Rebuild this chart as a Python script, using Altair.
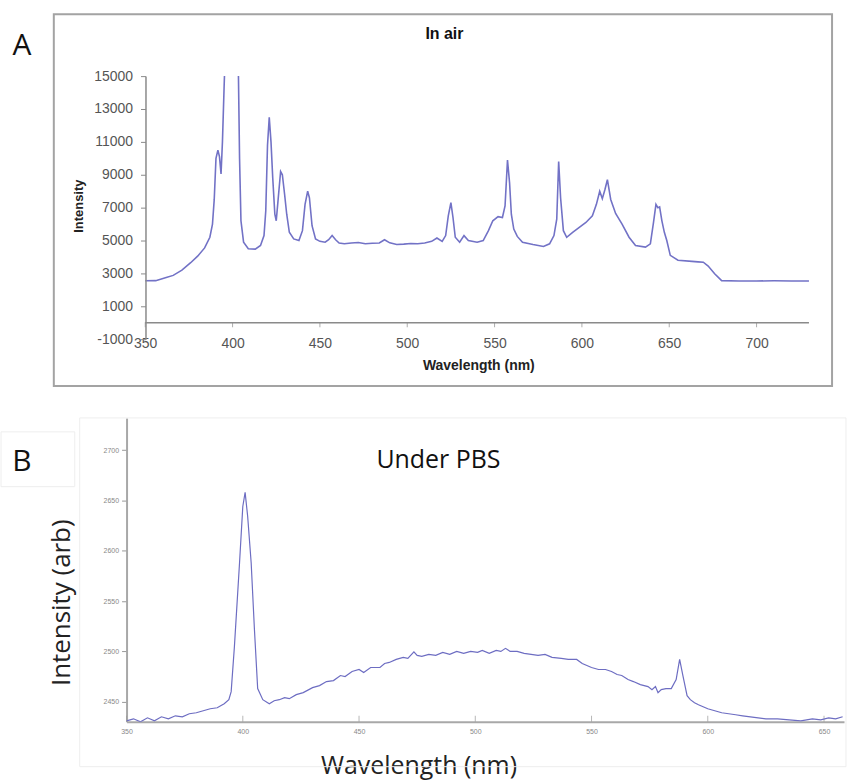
import altair as alt
import pandas as pd

# ---------------- Panel A: "In air" ----------------
wl_air = [350, 356, 362, 366, 371, 376, 380, 384, 387, 388.5, 389.5, 390.5, 391.6, 392.5, 393.4,
          394.2, 395.2, 396, 398, 400, 402, 403.3, 404, 404.8, 406.3, 409, 413, 416, 418, 419,
          420, 421, 422, 423, 424.2, 425, 426, 427.5, 428.5, 429.8, 431, 432.5, 435, 438, 440,
          441.5, 443, 444, 445.5, 447.5, 450, 453, 455, 457, 459, 461, 464, 468, 472, 476, 480,
          484, 487, 490, 494, 498, 502, 506, 510, 514, 517, 520, 522, 523.5, 525, 526.2, 527.5,
          530, 532.5, 535, 540, 543.5, 546.5, 549, 552, 554.5, 556, 557.4, 558.6, 559.6, 561,
          563, 566, 572, 578, 581.5, 584, 585.6, 586.7, 587.8, 589.4, 591.3, 594.7, 598.5, 602.3,
          606, 608.3, 610.2, 611.7, 613.2, 614.6, 616.5, 619.3, 623, 627, 630.7, 636.4, 639.2,
          641, 642.4, 643.5, 644.5, 645.8, 647.2, 648.6, 650.6, 655, 663, 666.5, 669.5, 672.3,
          676, 680, 690, 700, 710, 720, 730]
int_air = [2550, 2560, 2750, 2880, 3200, 3650, 4050, 4550, 5200, 6000, 7500, 10000, 10500, 10100, 9050,
           11000, 14500, 17000, 21000, 24000, 20000, 15500, 10000, 6200, 4900, 4500, 4480, 4700, 5300, 6800,
           10800, 12500, 11000, 8800, 6600, 6200, 7400, 9200, 9000, 7800, 6600, 5500, 5100, 5000, 5600,
           7200, 8000, 7600, 5900, 5100, 4950, 4900, 5050, 5300, 5050, 4850, 4800, 4850, 4880, 4800, 4830,
           4850, 5050, 4860, 4760, 4780, 4820, 4800, 4850, 4950, 5150, 4950, 5300, 6500, 7300, 6400, 5200,
           4900, 5300, 5000, 4900, 5000, 5600, 6200, 6450, 6400, 7100, 9900, 8500, 6600, 5700,
           5250, 4900, 4760, 4640, 4800, 5300, 6300, 9800, 7600, 5600, 5200, 5500, 5800, 6100,
           6500, 7200, 8000, 7550, 8100, 8700, 7500, 6650, 6000, 5200, 4700, 4600, 4800,
           6100, 7200, 7000, 7050, 6200, 5500, 5000, 4100, 3800, 3730, 3700, 3680, 3450,
           2980, 2560, 2540, 2540, 2550, 2540, 2540]

# ---------------- Panel B: "Under PBS" ----------------
wl_pbs = [350, 353, 356, 359, 362, 365, 368, 371, 374, 377, 380, 383, 386, 389, 392, 394, 395, 396.4,
          398.6, 400, 401, 402.1, 403.6, 405, 406.4, 408.6, 411.4, 413.5, 415.7, 418, 420, 423, 426,
          430, 433, 436, 439, 442, 444, 447, 450, 452, 455, 459, 461, 463, 466, 469, 471, 473.6, 475,
          477, 480, 483, 486, 489, 492, 495, 498, 501, 503, 506, 509, 511, 513, 515, 518, 521, 524,
          527, 530, 533, 537, 540, 543.6, 546, 548, 550, 553, 556, 558.6, 561, 563, 565.7, 568, 571,
          574.3, 576, 577.5, 578.6, 580, 582, 584.3, 586.4, 587.9, 589.3, 591.1, 592.5, 594.3, 596,
          598, 600, 603, 606, 609, 612, 615, 620, 625, 630, 635, 640, 645, 648.6, 652, 655, 658]
int_pbs = [2431, 2433, 2430, 2434, 2431, 2435, 2433, 2436, 2435, 2438, 2439, 2441, 2443, 2444, 2448, 2452, 2460, 2505,
           2588, 2644, 2658, 2634, 2588, 2522, 2463, 2452, 2448, 2451, 2452, 2454, 2453, 2457, 2459,
           2464, 2466, 2470, 2471, 2476, 2475, 2480, 2482, 2479, 2484, 2484, 2488, 2489, 2492, 2494, 2493, 2499.5, 2496,
           2495, 2497, 2496, 2499, 2497, 2500, 2498, 2500, 2499, 2501, 2498, 2501, 2500, 2503, 2500, 2500, 2498, 2497,
           2496, 2497, 2494, 2493, 2492, 2492, 2488, 2486, 2484, 2482, 2482, 2480, 2477, 2476, 2472, 2470, 2467,
           2465, 2462, 2465, 2459, 2462, 2463, 2463, 2472, 2492, 2476, 2456, 2452, 2449, 2447,
           2445, 2443, 2441, 2439, 2438, 2437, 2436, 2434.5, 2433, 2433, 2432, 2431, 2433, 2432, 2434, 2433, 2435]

ticks_air_x = [350, 400, 450, 500, 550, 600, 650, 700]
ticks_air_y = [-1000, 1000, 3000, 5000, 7000, 9000, 11000, 13000, 15000]
ticks_pbs_x = [350, 400, 450, 500, 550, 600, 650]
ticks_pbs_y = [2450, 2500, 2550, 2600, 2650, 2700]

LINE_A = "#7272c6"
LINE_B = "#6d6dc2"
SANS = "Liberation Sans"
BIG = "Open Sans"
LBL = "toString(datum.value)"

one = pd.DataFrame({"k": [0]})
df_air = pd.DataFrame({"wl": wl_air, "intensity": int_air})
df_pbs = pd.DataFrame({"wl": wl_pbs, "intensity": int_pbs})
df_tair = pd.DataFrame({"wl": ticks_air_x})
df_tpbs = pd.DataFrame({"wl": ticks_pbs_x})

WA, HA = 685, 264
WB, HB = 720, 305
xs_a = alt.Scale(domain=[339.3, 730.1], nice=False, zero=False)
ys_a = alt.Scale(domain=[-1000, 15000], nice=False, zero=False)
xs_b = alt.Scale(domain=[350, 658.6], nice=False, zero=False)
ys_b = alt.Scale(domain=[2430, 2732], nice=False, zero=False)

ax_a_x = alt.Axis(
    values=ticks_air_x, labelExpr=LBL, domain=False, ticks=False, grid=False, zindex=1,
    labelFont=SANS, labelFontSize=14, labelColor="#555", labelBaseline="middle", labelPadding=4,
    labelFlush=False, labelOverlap=False, labelBound=False, title="Wavelength (nm)", titleFont=SANS,
    titleFontSize=14, titleFontWeight="bold", titleColor="#222", titleX=353, titleY=26,
    titleBaseline="middle", titleAlign="center")
ax_a_y = alt.Axis(
    values=ticks_air_y, labelExpr=LBL, domain=True, domainColor="#8a8a8a", domainWidth=1.5, ticks=True,
    tickColor="#8a8a8a", tickSize=5, grid=False, offset=-19, zindex=1, labelFont=SANS,
    labelFontSize=14, labelColor="#555", labelPadding=8, labelFlush=False, labelOverlap=False,
    labelBound=False, title="Intensity", titleFont=SANS, titleFontSize=13, titleFontWeight="bold",
    titleColor="#222", titleAngle=270, titleX=-67, titleY=130, titleBaseline="middle", titleAlign="center")

# ---- panel A layers
bg = alt.Chart(one).mark_rect(fill="white").encode(
    x=alt.value(-127), x2=alt.value(720), y=alt.value(-75), y2=alt.value(706))
frame_a = alt.Chart(one).mark_rect(fill=None, stroke="#a3a3a3", strokeWidth=2).encode(
    x=alt.value(-73), x2=alt.value(708), y=alt.value(-62), y2=alt.value(311))
zero_rule = alt.Chart(one).mark_rule(color="#8a8a8a", strokeWidth=1.5).encode(
    x=alt.datum(350, scale=xs_a, axis=ax_a_x), x2=alt.datum(730),
    y=alt.datum(0, scale=ys_a, axis=ax_a_y))
xt_a = alt.Chart(df_tair).mark_tick(color="#8a8a8a", orient="vertical", size=5, thickness=1, yOffset=2).encode(
    x=alt.X("wl:Q", scale=xs_a, axis=ax_a_x), y=alt.datum(0, scale=ys_a, axis=ax_a_y))
line_a = alt.Chart(df_air).mark_line(color=LINE_A, strokeWidth=1.6, clip=True).encode(
    x=alt.X("wl:Q", scale=xs_a, axis=ax_a_x),
    y=alt.Y("intensity:Q", scale=ys_a, axis=ax_a_y))
txt_A = alt.Chart(one).mark_text(text="A", font=BIG, fontSize=30, color="#111").encode(
    x=alt.value(-105), y=alt.value(-30))
txt_air = alt.Chart(one).mark_text(text="In air", font=SANS, fontSize=16, fontWeight="bold", color="#111").encode(
    x=alt.value(319), y=alt.value(-42))

chart_a = alt.layer(bg, frame_a, zero_rule, xt_a, line_a, txt_A, txt_air).properties(width=WA, height=HA)

# ---- panel B layers
ax_b_x = alt.Axis(
    values=ticks_pbs_x, labelExpr=LBL, domain=True, domainColor="#a8a8a8", domainWidth=2, ticks=False,
    grid=False, labelFont=SANS, labelFontSize=7, labelColor="#888888", labelPadding=6, labelFlush=False,
    labelOverlap=False, title="Wavelength (nm)", titleFont=BIG, titleFontSize=25, titleFontWeight="normal",
    titleColor="#222", titleX=293, titleY=44, titleBaseline="middle", titleAlign="center")
ax_b_y = alt.Axis(
    values=ticks_pbs_y, labelExpr=LBL, domain=True, domainColor="#a8a8a8", domainWidth=2, ticks=True,
    tickColor="#999999", tickSize=5, grid=False, labelFont=SANS, labelFontSize=7, labelColor="#888888",
    labelPadding=3, labelFlush=False, labelOverlap=False, title="Intensity (arb)", titleFont=BIG,
    titleFontSize=26, titleFontWeight="normal", titleColor="#222", titleAngle=270, titleX=-65,
    titleY=185, titleBaseline="middle", titleAlign="center")

frame_b = alt.Chart(one).mark_rect(fill=None, stroke="#eeeeee", strokeWidth=1).encode(
    x=alt.value(-47), x2=alt.value(722), y=alt.value(0), y2=alt.value(350))
box_b = alt.Chart(one).mark_rect(fill=None, stroke="#eeeeee", strokeWidth=1).encode(
    x=alt.value(-126), x2=alt.value(-52), y=alt.value(14), y2=alt.value(69))
xt_b = alt.Chart(df_tpbs).mark_tick(color="#999999", orient="vertical", size=6, thickness=1, yOffset=-3).encode(
    x=alt.X("wl:Q", scale=xs_b, axis=ax_b_x), y=alt.datum(2430, scale=ys_b, axis=ax_b_y))
line_b = alt.Chart(df_pbs).mark_line(color=LINE_B, strokeWidth=1.2, clip=True).encode(
    x=alt.X("wl:Q", scale=xs_b, axis=ax_b_x),
    y=alt.Y("intensity:Q", scale=ys_b, axis=ax_b_y))
txt_B = alt.Chart(one).mark_text(text="B", font=BIG, fontSize=30, color="#111").encode(
    x=alt.value(-105), y=alt.value(44))
txt_pbs = alt.Chart(one).mark_text(text="Under PBS", font=BIG, fontSize=25, color="#111").encode(
    x=alt.value(313), y=alt.value(42))

chart_b = alt.layer(frame_b, box_b, xt_b, line_b, txt_B, txt_pbs).properties(width=WB, height=HB)

chart = alt.vconcat(chart_a, chart_b, spacing=79, bounds="flush").properties(
    padding=0, background="white"
).configure_view(stroke=None).configure_axis(labelOverlap=False).resolve_scale(
    x="independent", y="independent")

chart.save("out.html", embed_options={"renderer": "svg", "actions": False})
